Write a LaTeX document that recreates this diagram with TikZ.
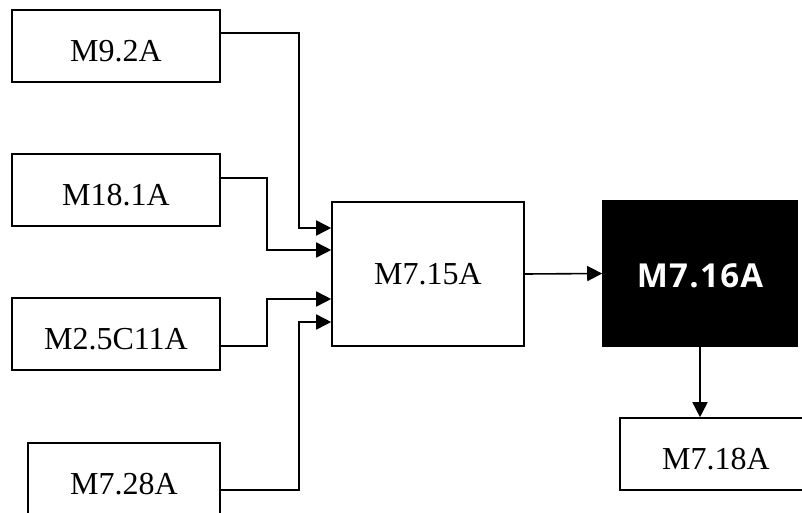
\documentclass[tikz,border=0pt]{standalone}
\usepackage{fontspec}
\setmainfont{Liberation Serif}
\newfontfamily\blksans[LetterSpace=4]{Open Sans}
\usetikzlibrary{arrows.meta}
\tikzset{
  blk/.style={draw,line width=1.6pt,inner sep=0pt,minimum width=192pt,minimum height=72pt,
    font=\fontsize{32}{36}\selectfont,text height=31pt},
  arr/.style={line width=1.6pt,-{Triangle[length=15pt,width=15pt]}}
}
\begin{document}
\begin{tikzpicture}[x=1pt,y=-1pt]
			\clip (0,0) rectangle (802,513);
			\useasboundingbox (0,0) rectangle (802,513);
			%Khoi vao 1-4
			\node[blk,minimum width=208pt] (m92) at (116,46) {M9.2A};
			\node[blk,minimum width=208pt] (m181) at (116,190) {M18.1A};
			\node[blk,minimum width=208pt] (m25c11) at (116,334) {M2.5C11A};
			\node[blk] (m728) at (124,479) {M7.28A};
			%Khoi giua
			\node[blk,minimum height=144pt,text height=22pt] (m715) at (428,274) {M7.15A};
			%Khoi den
			\node[blk,minimum width=194pt,minimum height=145pt,fill=black,text=white,
				font=\blksans\bfseries\fontsize{33}{36}\selectfont,text height=28pt] (m716) at (700,273.5) {M7.16A};
			%Khoi ra
			\node[blk] (m718) at (716,454) {M7.18A};
			%Mui ten vao
			\draw[arr] ([yshift=13pt]m92.east) -| ([xshift=-32pt,yshift=46pt]m715.west) -- ([yshift=46pt]m715.west);
			\draw[arr] ([yshift=12pt]m181.east) -| ([xshift=-64pt,yshift=24pt]m715.west) -- ([yshift=24pt]m715.west);
			\draw[arr] ([yshift=-12pt]m25c11.east) -| ([xshift=-64pt,yshift=-25pt]m715.west) -- ([yshift=-25pt]m715.west);
			\draw[arr] ([yshift=-11pt]m728.east) -| ([xshift=-32pt,yshift=-48pt]m715.west) -- ([yshift=-48pt]m715.west);
			%Mui ten ra
			\draw[arr] (m715.east) -- (m716.west);
			\draw[arr] (m716.south) -- (m716.south |- m718.north);
		\end{tikzpicture}
\end{document}
